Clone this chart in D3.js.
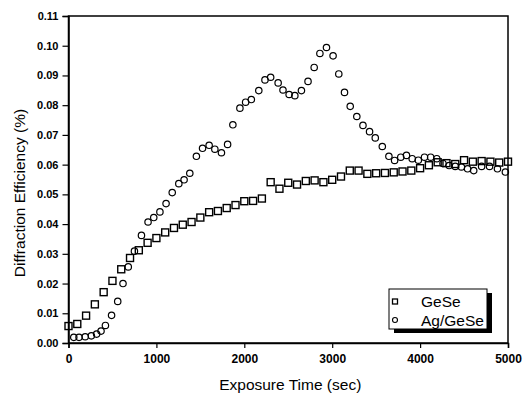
<!DOCTYPE html>
<html>
<head>
<meta charset="utf-8">
<script src="https://cdn.jsdelivr.net/npm/d3@7/dist/d3.min.js"></script>
<style>
  body { margin: 0; background: #fff; }
  svg { display: block; font-family: "Liberation Sans", Arial, sans-serif; }
</style>
</head>
<body>
<div id="chart"></div>
<script>
// GeSe: one point every 100 s
const geseTime = d3.range(0, 5001, 100);
const geseEff = [
  0.0057, 0.0064, 0.0092, 0.0130, 0.0171, 0.0209, 0.0248, 0.0286, 0.0312, 0.0337,
  0.0353, 0.0372, 0.0387, 0.0398, 0.0407, 0.0422, 0.0440, 0.0444, 0.0454, 0.0464,
  0.0477, 0.0478, 0.0486, 0.0541, 0.0519, 0.0539, 0.0533, 0.0545, 0.0547, 0.0541,
  0.0549, 0.0560, 0.0580, 0.0580, 0.0569, 0.0571, 0.0572, 0.0574, 0.0577, 0.0580,
  0.0588, 0.0598, 0.0608, 0.0605, 0.0602, 0.0615, 0.0610, 0.0612, 0.0610, 0.0607,
  0.0610
];

// Ag/GeSe
const agTime = [
  60, 120, 190, 260, 320, 370, 420, 490, 560, 620,
  680, 750, 830, 905, 970, 1040, 1110, 1180, 1255, 1315,
  1380, 1455, 1525, 1600, 1665, 1740, 1810, 1870, 1950, 2015,
  2080, 2165, 2235, 2300, 2385, 2440, 2510, 2575, 2650, 2725,
  2795, 2860, 2935, 3010, 3075, 3140, 3205, 3280, 3350, 3425,
  3490, 3570, 3645, 3710, 3780, 3845, 3910, 3980, 4050, 4120,
  4190, 4260, 4330, 4400, 4470, 4540, 4610, 4700, 4790, 4880,
  4970
];
const agEff = [
  0.0019, 0.0019, 0.0021, 0.0024, 0.0030, 0.0040, 0.0059, 0.0093, 0.0140, 0.0200,
  0.0256, 0.0309, 0.0362, 0.0407, 0.0422, 0.0441, 0.0469, 0.0506, 0.0536, 0.0549,
  0.0571, 0.0628, 0.0655, 0.0665, 0.0652, 0.0640, 0.0668, 0.0734, 0.0790, 0.0810,
  0.0819, 0.0849, 0.0885, 0.0894, 0.0875, 0.0851, 0.0836, 0.0832, 0.0849, 0.0880,
  0.0927, 0.0974, 0.0994, 0.0966, 0.0905, 0.0843, 0.0796, 0.0762, 0.0732, 0.0711,
  0.0690, 0.0661, 0.0628, 0.0614, 0.0625, 0.0631, 0.0620, 0.0615, 0.0625, 0.0625,
  0.0620, 0.0604, 0.0597, 0.0594, 0.0592, 0.0586, 0.0580, 0.0594, 0.0594, 0.0586,
  0.0575
];

const xTicks = [0, 1000, 2000, 3000, 4000, 5000];
const yTicks = d3.range(0, 0.1101, 0.01);
const seriesNames = ['GeSe', 'Ag/GeSe'];

const width = 524, height = 394;
const margin = { top: 16, right: 16, bottom: 51, left: 68.5 };

const svg = d3.select('#chart').append('svg')
  .attr('width', width)
  .attr('height', height);

const x = d3.scaleLinear().domain([0, 5000]).range([margin.left, width - margin.right]);
const y = d3.scaleLinear().domain([0, 0.11]).range([height - margin.bottom, margin.top]);

// frame
svg.append('rect')
  .attr('x', x(0)).attr('y', y(0.11))
  .attr('width', x(5000) - x(0)).attr('height', y(0) - y(0.11))
  .attr('fill', 'none').attr('stroke', '#000').attr('stroke-width', 1.5);

const xAxis = svg.append('g')
  .attr('transform', `translate(0,${y(0)})`)
  .call(d3.axisBottom(x).tickValues(xTicks).tickFormat(d3.format('d')).tickSize(5).tickPadding(6));

const yAxis = svg.append('g')
  .attr('transform', `translate(${x(0)},0)`)
  .call(d3.axisLeft(y).tickValues(yTicks).tickFormat(d3.format('.2f')).tickSize(6).tickPadding(4));

[xAxis, yAxis].forEach(g => {
  g.select('.domain').attr('stroke-width', 1.5);
  g.selectAll('.tick line').attr('stroke-width', 1.2);
  g.selectAll('.tick text')
    .attr('font-weight', 'bold')
    .attr('font-family', '"Liberation Sans", Arial, sans-serif').attr('fill', '#000');
});
yAxis.selectAll('.tick text').attr('font-size', 11);
xAxis.selectAll('.tick text').attr('font-size', 12);

svg.append('text')
  .attr('x', (x(0) + x(5000)) / 2 + 2).attr('y', 390)
  .attr('text-anchor', 'middle').attr('font-size', 15.5)
  .text('Exposure Time (sec)');

svg.append('text')
  .attr('transform', 'translate(25,193) rotate(-90)')
  .attr('text-anchor', 'middle').attr('font-size', 15.5)
  .text('Diffraction Efficiency (%)');

// data
const gese = geseTime.map((t, i) => ({ t, v: geseEff[i] }));
const ag = agTime.map((t, i) => ({ t, v: agEff[i] }));

svg.append('g').selectAll('rect')
  .data(gese).join('rect')
  .attr('x', d => x(d.t) - 3.5).attr('y', d => y(d.v) - 3.5)
  .attr('width', 7).attr('height', 7)
  .attr('fill', 'none').attr('stroke', '#000').attr('stroke-width', 1.4);

svg.append('g').selectAll('circle')
  .data(ag).join('circle')
  .attr('cx', d => x(d.t)).attr('cy', d => y(d.v)).attr('r', 3.2)
  .attr('fill', 'none').attr('stroke', '#000').attr('stroke-width', 1.2);

// legend with drop shadow
const lg = svg.append('g').attr('transform', 'translate(389,289)');
lg.append('rect').attr('x', 5).attr('y', 4).attr('width', 98).attr('height', 40).attr('fill', '#000');
lg.append('rect').attr('width', 98).attr('height', 40).attr('fill', '#fff').attr('stroke', '#000').attr('stroke-width', 1);
lg.append('rect').attr('x', 3.5).attr('y', 10).attr('width', 5).attr('height', 5)
  .attr('fill', 'none').attr('stroke', '#000').attr('stroke-width', 1.3);
lg.append('circle').attr('cx', 6).attr('cy', 31).attr('r', 2.5)
  .attr('fill', 'none').attr('stroke', '#000').attr('stroke-width', 1.1);
lg.selectAll('text.lbl')
  .data(seriesNames).join('text')
  .attr('class', 'lbl')
  .attr('x', 32).attr('y', (d, i) => 17.5 + i * 19)
  .attr('font-size', 15.5)
  .text(d => d);
</script>
</body>
</html>
